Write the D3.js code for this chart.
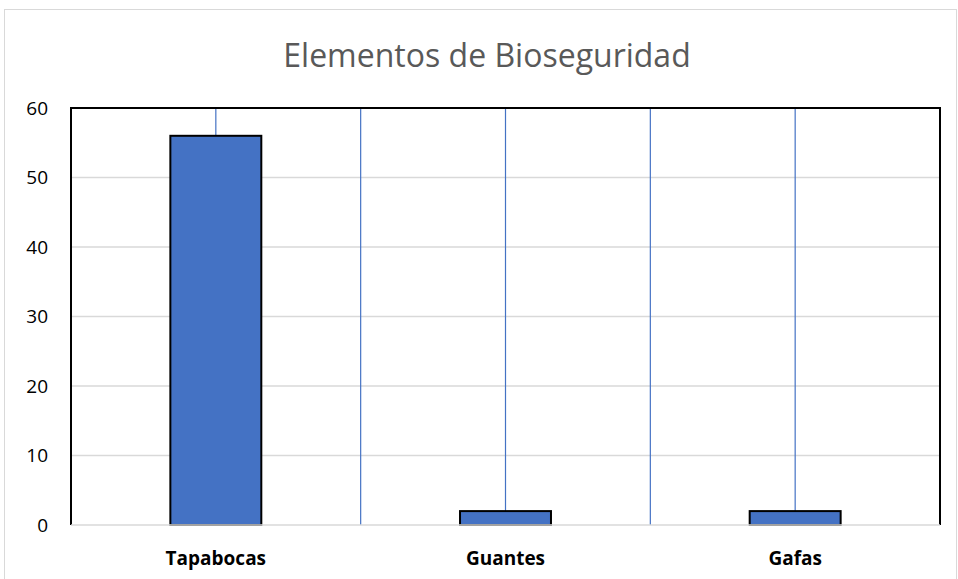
<!DOCTYPE html>
<html>
<head>
<meta charset="utf-8">
<script src="https://cdn.jsdelivr.net/npm/d3@7"></script>
<style>
  body { margin: 0; background: #fff; }
  svg { display: block; font-family: 'Open Sans', sans-serif; }
</style>
</head>
<body>
<div id="chart"></div>
<script>
  var title = 'Elementos de Bioseguridad';
  var categories = ['Tapabocas', 'Guantes', 'Gafas'];
  var values = [56, 2, 2];
  var yTicks = [0, 10, 20, 30, 40, 50, 60];

  var width = 958, height = 579;
  var margin = { top: 108, right: 18, bottom: 54, left: 71 };
  var innerW = width - margin.left - margin.right,
      innerH = height - margin.top - margin.bottom;

  var svg = d3.select('#chart').append('svg')
    .attr('width', width)
    .attr('height', height);

  // outer chart frame
  svg.append('rect')
    .attr('x', 4.5).attr('y', 9.5)
    .attr('width', width - 6).attr('height', height)
    .attr('fill', '#fff')
    .attr('stroke', '#d9d9d9');

  svg.append('text')
    .attr('x', 487).attr('y', 67)
    .attr('text-anchor', 'middle')
    .attr('fill', '#595959')
    .style('font-size', '32px')
    .text(title);

  var g = svg.append('g')
    .attr('transform', 'translate(' + margin.left + ',' + margin.top + ')');

  var x = d3.scaleBand().domain(categories).range([0, innerW]).paddingInner(0).paddingOuter(0);
  var y = d3.scaleLinear().domain([0, 60]).range([innerH, 0]);

  // horizontal gridlines
  g.append('g').selectAll('line')
    .data(yTicks.slice(1))
    .enter().append('line')
    .attr('x1', 0).attr('x2', innerW)
    .attr('y1', function(d) { return y(d); })
    .attr('y2', function(d) { return y(d); })
    .attr('stroke', '#d9d9d9')
    .attr('stroke-width', 1.5);

  // vertical blue lines at category centres and boundaries
  var vlines = [];
  categories.forEach(function(c, i) {
    vlines.push(x(c) + x.bandwidth() / 2);
    if (i > 0) vlines.push(x(c));
  });
  g.append('g').selectAll('line')
    .data(vlines)
    .enter().append('line')
    .attr('x1', function(d) { return d; })
    .attr('x2', function(d) { return d; })
    .attr('y1', 0).attr('y2', innerH)
    .attr('stroke', '#4472c4')
    .attr('stroke-width', 1.2);

  // bars
  var barW = x.bandwidth() * 0.314;
  g.append('g').selectAll('rect')
    .data(values)
    .enter().append('rect')
    .attr('x', function(d, i) { return x(categories[i]) + (x.bandwidth() - barW) / 2; })
    .attr('y', function(d) { return y(d); })
    .attr('width', barW)
    .attr('height', function(d) { return innerH - y(d); })
    .attr('fill', '#4472c4')
    .attr('stroke', '#000')
    .attr('stroke-width', 2);

  // plot area frame
  g.append('path')
    .attr('d', 'M0,' + innerH + 'V0H' + innerW + 'V' + innerH)
    .attr('fill', 'none')
    .attr('stroke', '#000')
    .attr('stroke-width', 2);

  // category axis line
  g.append('line')
    .attr('x1', 0).attr('x2', innerW)
    .attr('y1', innerH).attr('y2', innerH)
    .attr('stroke', '#d9d9d9')
    .attr('stroke-width', 1.5);

  // y axis labels
  var yAxis = d3.axisLeft(y).tickValues(yTicks).tickSize(0).tickPadding(23);
  g.append('g').call(yAxis)
    .call(function(s) { s.select('.domain').remove(); })
    .selectAll('text')
    .attr('fill', '#000')
    .style('font-size', '19px')
    .style('font-family', "'Open Sans', sans-serif");

  // x axis labels
  var xAxis = d3.axisBottom(x).tickSize(0).tickPadding(24);
  g.append('g').attr('transform', 'translate(0,' + innerH + ')').call(xAxis)
    .call(function(s) { s.select('.domain').remove(); })
    .selectAll('text')
    .attr('fill', '#000')
    .attr('dy', null)
    .attr('y', 40)
    .style('font-size', '19px')
    .style('font-weight', 'bold')
    .style('font-family', "'Open Sans', sans-serif");
</script>
</body>
</html>
